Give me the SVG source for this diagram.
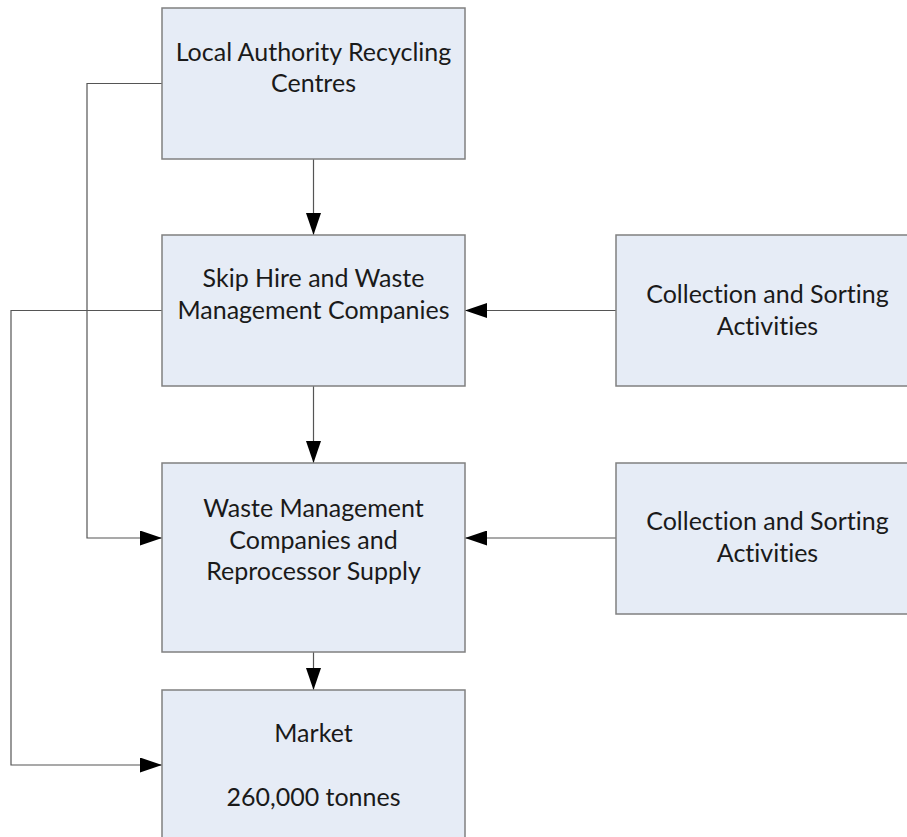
<svg xmlns="http://www.w3.org/2000/svg" width="907" height="837" viewBox="0 0 907 837">
<style>
.box{fill:#E6ECF6;stroke:#808080;stroke-width:1.5}
.lbl{font-family:Lato,"Open Sans","Liberation Sans",sans-serif;font-size:25px;fill:#1a1a1a;text-anchor:middle;font-variant-ligatures:none}
.con{fill:none;stroke:#555555;stroke-width:1.2}
</style>
<defs>
<marker id="ah" markerUnits="userSpaceOnUse" markerWidth="22" markerHeight="15" refX="22" refY="7.5" orient="auto">
<path d="M0,0 L22,7.5 L0,15 z" fill="#000"/>
</marker>
</defs>
<rect width="907" height="837" fill="#fff"/>
<g id="connectors">
<path class="con" d="M313.5,159 V235" marker-end="url(#ah)"/>
<path class="con" d="M313.5,386 V463" marker-end="url(#ah)"/>
<path class="con" d="M313.5,652 V690" marker-end="url(#ah)"/>
<path class="con" d="M616,310.5 H465" marker-end="url(#ah)"/>
<path class="con" d="M616,538 H465" marker-end="url(#ah)"/>
<path class="con" d="M162,83.5 H87 V538 H162" marker-end="url(#ah)"/>
<path class="con" d="M162,310.5 H11 V765 H162" marker-end="url(#ah)"/>
</g>
<g id="local-authority">
<rect class="box" x="162" y="8" width="303" height="151"/>
<text class="lbl" x="313.5" y="61">Local Authority Recycling</text>
<text class="lbl" x="313.5" y="92">Centres</text>
</g>
<g id="skip-hire">
<rect class="box" x="162" y="235" width="303" height="151"/>
<text class="lbl" x="313.5" y="287">Skip Hire and Waste</text>
<text class="lbl" x="313.5" y="319">Management Companies</text>
</g>
<g id="waste-management">
<rect class="box" x="162" y="463" width="303" height="189"/>
<text class="lbl" x="313.5" y="517">Waste Management</text>
<text class="lbl" x="313.5" y="548.5">Companies and</text>
<text class="lbl" x="313.5" y="580">Reprocessor Supply</text>
</g>
<g id="market">
<rect class="box" x="162" y="690" width="303" height="160"/>
<text class="lbl" x="313.5" y="742">Market</text>
<text class="lbl" x="313.5" y="806">260,000 tonnes</text>
</g>
<g id="collection-1">
<rect class="box" x="616" y="235" width="303" height="151"/>
<text class="lbl" x="767.5" y="303">Collection and Sorting</text>
<text class="lbl" x="767.5" y="335">Activities</text>
</g>
<g id="collection-2">
<rect class="box" x="616" y="463" width="303" height="151"/>
<text class="lbl" x="767.5" y="530">Collection and Sorting</text>
<text class="lbl" x="767.5" y="562">Activities</text>
</g>
</svg>
